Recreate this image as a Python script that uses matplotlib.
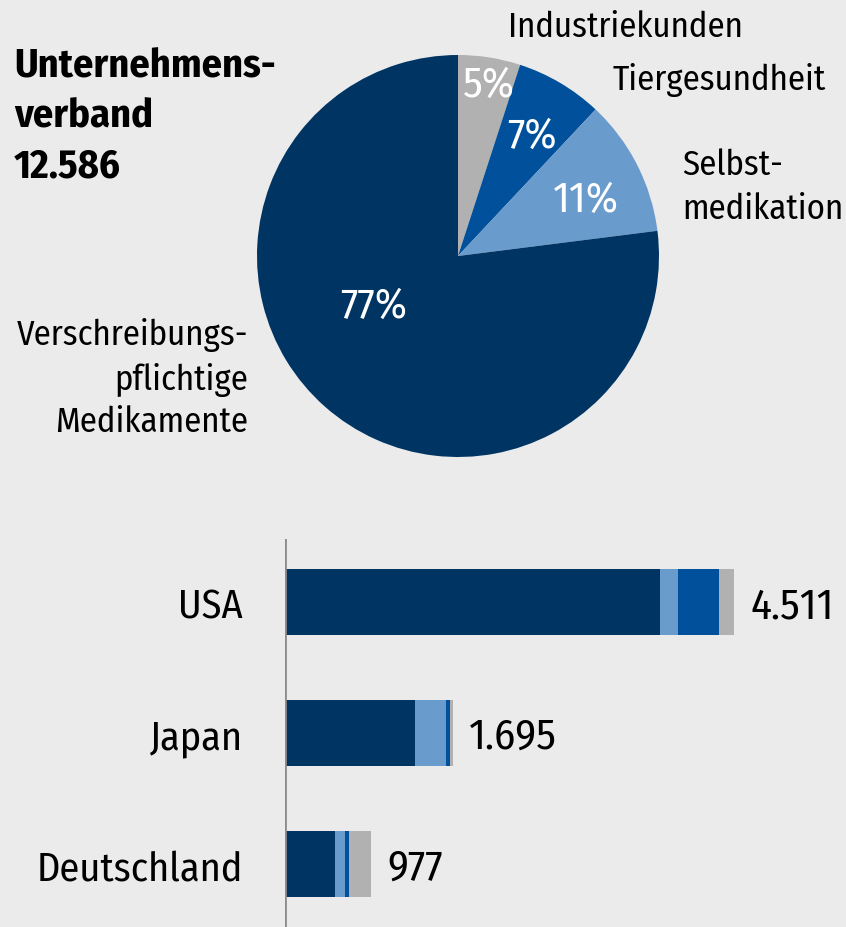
import matplotlib
matplotlib.use("Agg")
import matplotlib.pyplot as plt

# ---- data ----
total_label = "12.586"
pie_labels = ["Industriekunden", "Tiergesundheit", "Selbstmedikation", "Verschreibungspflichtige Medikamente"]
pie_values = [5, 7, 11, 77]
pie_colors = ["#B1B1B1", "#00509B", "#6A9BCD", "#003463"]

countries = ["USA", "Japan", "Deutschland"]
country_totals = ["4.511", "1.695", "977"]
seg_rx = [3770, 1307, 500]      # Verschreibungspflichtige Medikamente
seg_self = [180, 312, 100]      # Selbstmedikation
seg_animal = [412, 40, 40]      # Tiergesundheit
seg_ind = [150, 27, 228]        # Industriekunden

BG = "#EBEBEB"
FONT = ["Fira Sans Condensed", "DejaVu Sans"]
plt.rcParams['font.family'] = FONT

W, H = 846, 928
fig = plt.figure(figsize=(W / 100, H / 100), dpi=100, facecolor=BG)

# overlay axes in pixel coordinates for text
tax = fig.add_axes([0, 0, 1, 1], zorder=5)
tax.set_xlim(0, W)
tax.set_ylim(H, 0)
tax.axis("off")
tax.patch.set_alpha(0)

# ---- pie ----
cx, cy, r = 458, 257, 201
pax = fig.add_axes([(cx - r) / W, (H - cy - r) / H, 2 * r / W, 2 * r / H])
pax.pie(pie_values, colors=pie_colors, startangle=90, counterclock=False,
        radius=1, wedgeprops=dict(linewidth=0))
pax.set_xlim(-1, 1)
pax.set_ylim(-1, 1)
pax.set_aspect("auto")
pax.axis("off")

# percent labels
pct_pos = [(462, 97), (507, 148), (553, 212), (340, 318)]
for v, (x, y) in zip(pie_values, pct_pos):
    tax.text(x, y, f"{v}%", color="white", fontsize=31, ha="left", va="baseline")

# title
title_lines = ["Unternehmens-", "verband", total_label]
for i, t in enumerate(title_lines):
    tax.text(14, 77 + 50 * i, t, fontsize=29, fontweight="bold", ha="left", va="baseline", color="black")

# category labels
LS = 25
tax.text(508, 37, "Industriekunden", fontsize=LS, ha="left", va="baseline")
tax.text(613, 90, "Tiergesundheit", fontsize=LS, ha="left", va="baseline")
tax.text(682, 175, "Selbst-", fontsize=LS, ha="left", va="baseline")
tax.text(682, 219, "medikation", fontsize=LS, ha="left", va="baseline")
for t, y in zip(["Verschreibungs-", "pflichtige", "Medikamente"], [345, 390, 432]):
    tax.text(248, y, t, fontsize=LS, ha="right", va="baseline")

# ---- bars ----
x0 = 285
scale = 449 / 4511.0  # px per unit
bax = fig.add_axes([x0 / W, 0, (W - x0) / W, (H - 540) / H])
bax.set_xlim(0, (W - x0) / scale)
bax.set_ylim(2.481, -0.481)
bax.axis("off")
ys = list(range(len(countries)))
h = 0.504
left = [0] * len(countries)
for seg, col in zip([seg_rx, seg_self, seg_animal, seg_ind],
                    ["#003463", "#6A9BCD", "#00509B", "#B1B1B1"]):
    bax.barh(ys, seg, left=left, height=h, color=col, linewidth=0)
    left = [a + b for a, b in zip(left, seg)]
bax.axvline(0, color="#8C8C8C", linewidth=2)

for i, (c, tot) in enumerate(zip(countries, country_totals)):
    bax.text(-42 / scale, i + 0.115, c, fontsize=29, ha="right", va="baseline", color="black")
    bax.text(left[i] + 16 / scale, i + 0.115, tot, fontsize=31, ha="left", va="baseline", color="black")

fig.savefig("out.png", dpi=100, facecolor=BG)
